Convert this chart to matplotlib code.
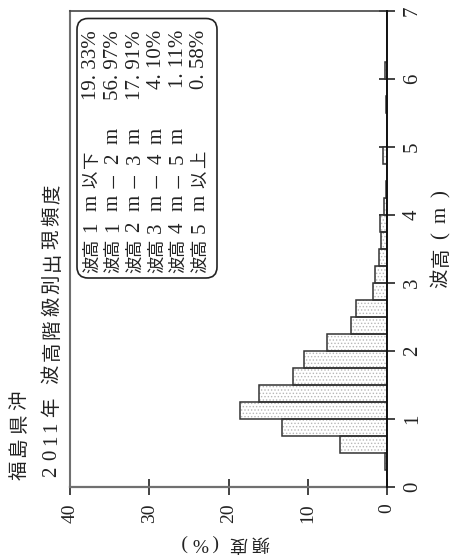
import numpy as np
import matplotlib.pyplot as plt
from matplotlib.patches import FancyBboxPatch

# Wave height classes (lower edge, m) and frequency (%) of each 0.25 m class
bin_lower = np.arange(0, 7, 0.25)
freq = [0.0, 0.2, 5.9, 13.3, 18.5, 16.1, 11.9, 10.5,
        7.6, 4.6, 3.9, 1.8, 1.5, 1.05, 0.7, 0.85,
        0.42, 0.15, 0.06, 0.48, 0.04, 0.04, 0.15, 0.05,
        0.2, 0.06, 0.06, 0.0]

# summary table in the box
class_labels = ["1 m以下", "1 m－2 m", "2 m－3 m", "3 m－4 m", "4 m－5 m", "5 m以上"]
class_pct = [19.33, 56.97, 17.91, 4.10, 1.11, 0.58]

freq_ticks = [0, 10, 20, 30, 40]
height_ticks = [0, 1, 2, 3, 4, 5, 6, 7]

title1 = "福島県沖"
title2a = "2011年"
title2b = "波高階級別出現頻度"
xlabel = "波高(m)"
ylabel = "頻度(%)"

CJK = ['Noto Sans CJK JP', 'DejaVu Sans']
SER = ['Liberation Serif', 'DejaVu Serif']
INK = '#222222'
plt.rcParams['hatch.linewidth'] = 0.6

W, H = 450, 558
fig = plt.figure(figsize=(W / 100, H / 100), dpi=100)

# the chart is drawn turned a quarter turn: height runs up the right side
ax = fig.add_axes([70 / W, 1 - 486.7 / H, (387 - 70) / W, (486.7 - 11) / H])
ax.barh(bin_lower, freq, height=0.25, align='edge', color='white',
        edgecolor='#b8b8b8', hatch='.....', linewidth=0, zorder=2)
ax.barh(bin_lower, freq, height=0.25, align='edge', fill=False,
        edgecolor='#333333', linewidth=1.1, zorder=3)
ax.set_xlim(40, 0)
ax.set_ylim(0, 7)
ax.yaxis.tick_right()
ax.set_xticks(freq_ticks)
ax.set_yticks(height_ticks)
ax.tick_params(axis='x', direction='inout', length=12, width=1.2, pad=6,
               colors=INK, labelrotation=90, labelsize=14)
ax.tick_params(axis='y', direction='inout', length=11, width=1.2, pad=6,
               colors=INK, labelrotation=90, labelsize=15)
for lab in ax.get_xticklabels() + ax.get_yticklabels():
    lab.set_family(SER)
for lab in ax.get_yticklabels():
    lab.set_verticalalignment('center')
ax.spines['left'].set_color('#707070')
ax.spines['left'].set_linewidth(1.5)
ax.spines['bottom'].set_color('#707070')
ax.spines['bottom'].set_linewidth(1.6)
ax.spines['top'].set_color('#444444')
ax.spines['top'].set_linewidth(1.2)
ax.spines['right'].set_color('#111111')
ax.spines['right'].set_linewidth(1.4)
ax.spines['right'].set_zorder(4)

# overlay in pixel units for the text and the rounded box
ov = fig.add_axes([0, 0, 1, 1])
ov.set_xlim(0, W)
ov.set_ylim(H, 0)
ov.axis('off')
ov.set_zorder(5)


def put(x, y, s, rot=90, cjk_size=12.5, lat_size=15):
    is_cjk = ord(s[0]) > 0x2E80
    ov.text(x, y, s, rotation=rot, ha='center', va='center', color=INK,
            family=CJK if is_cjk else SER,
            fontsize=cjk_size if is_cjk else lat_size)


# title
for c, y in zip(title1, [470, 447, 423, 400]):
    put(19, y, c, cjk_size=14)
for c, y in zip(title2a, [472, 455, 440, 427, 407]):
    put(52, y, c, cjk_size=14, lat_size=15)
for i, c in enumerate(title2b):
    put(52, 374 - 22.5 * i, c, cjk_size=14)

# summary box
ov.add_patch(FancyBboxPatch((77, 18.5), 140, 259.5,
                            boxstyle="round,pad=0,rounding_size=11",
                            fc='none', ec=INK, lw=1.2))
col_x = [91.7, 113.3, 135, 156.7, 178.3, 200]
tok_y = [264, 247.3, 227.3, 202.7, 179, 159, 136]
for x, lab, p in zip(col_x, class_labels, class_pct):
    toks = ["波", "高"] + list(lab.replace(" ", ""))
    for t, y in zip(toks, tok_y):
        put(x, y, t)
    s = f"{p:.2f}%".replace(".", ". ")
    ov.text(x, 30, s, rotation=90, ha='center', va='top', color=INK,
            family=SER, fontsize=15)

# axis labels
for c, y in zip(xlabel, [278, 257, 236, 215, 194]):
    put(441, y, c, cjk_size=14)
for c, x in zip(ylabel, [260, 238, 215, 200, 184]):
    put(x, 543, c, rot=180, cjk_size=13, lat_size=14)

fig.savefig('out.png', dpi=100)
